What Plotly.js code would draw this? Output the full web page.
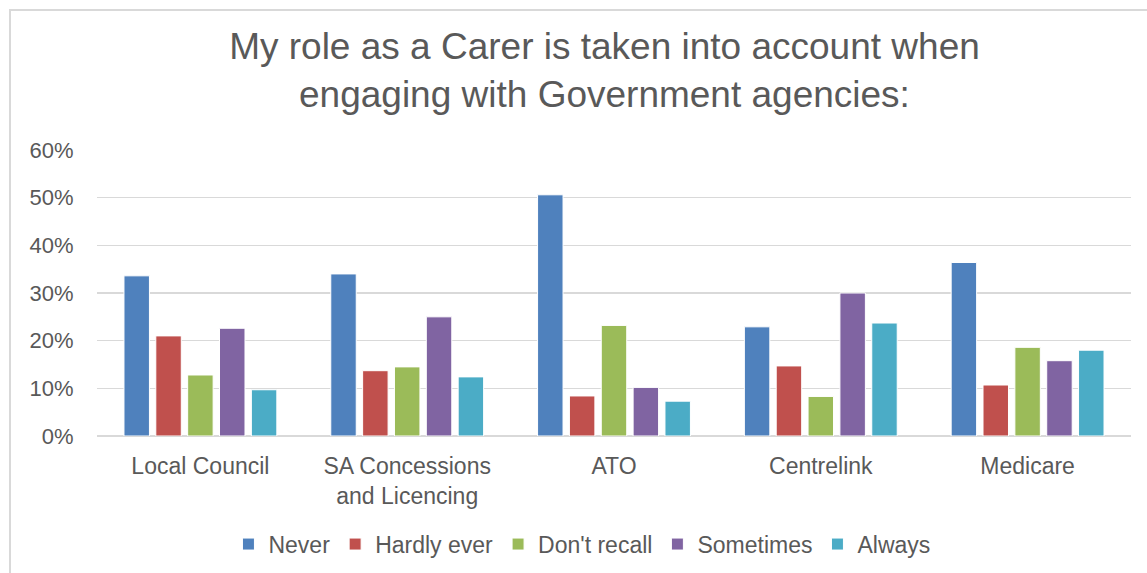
<!DOCTYPE html>
<html>
<head>
<meta charset="utf-8">
<script src="https://cdn.plot.ly/plotly-3.0.1.min.js"></script>
<style>
  html, body { margin: 0; padding: 0; background: #fff; overflow: hidden; }
  #wrap { position: relative; width: 1147px; height: 573px; }
  #chart { position: absolute; left: 0; top: 0; width: 1147px; height: 573px; }
  #frame { position: absolute; left: 9px; top: 9px; width: 1200px; height: 700px;
           border-left: 2px solid #d9d9d9; border-top: 2px solid #d9d9d9; pointer-events: none; }
</style>
</head>
<body>
<div id="wrap">
  <div id="chart"></div>
  <div id="frame"></div>
</div>
<script>
const categories = ["Local Council", "SA Concessions<br>and Licencing", "ATO", "Centrelink", "Medicare"];
const seriesNames = ["Never", "Hardly ever", "Don't recall", "Sometimes", "Always"];
const never      = [0.336, 0.340, 0.506, 0.229, 0.364];
const hardlyEver = [0.210, 0.137, 0.084, 0.147, 0.107];
const dontRecall = [0.128, 0.145, 0.232, 0.083, 0.186];
const sometimes  = [0.226, 0.250, 0.102, 0.300, 0.158];
const always     = [0.097, 0.124, 0.073, 0.237, 0.180];
const colors = ["#4F81BD", "#C0504D", "#9BBB59", "#8064A2", "#4BACC6"];
const yTickVals = [0, 0.1, 0.2, 0.3, 0.4, 0.5, 0.6];
const yTickText = ["0%", "10%", "20%", "30%", "40%", "50%", "60%"];

const values = [never, hardlyEver, dontRecall, sometimes, always];
const traces = values.map((v, i) => ({
  type: "bar",
  name: seriesNames[i],
  x: categories,
  y: v,
  marker: { color: colors[i], line: { color: "#ffffff", width: 1 } },
  hoverinfo: "skip"
}));

const font = "Liberation Sans, Arial, sans-serif";
const layout = {
  width: 1147,
  height: 573,
  paper_bgcolor: "#ffffff",
  plot_bgcolor: "#ffffff",
  margin: { l: 97, r: 16, t: 150, b: 137, autoexpand: false },
  font: { family: font, color: "#595959" },
  title: {
    text: "My role as a Carer is taken into account when<br>engaging with Government agencies:",
    font: { family: font, size: 37, color: "#595959" },
    x: 0.527, xref: "container", xanchor: "center",
    y: 1 - 59 / 573, yref: "container", yanchor: "top"
  },
  barmode: "group",
  bargap: 0.23,
  bargroupgap: 0.2,
  xaxis: {
    tickfont: { family: font, size: 23, color: "#595959" },
    ticks: "outside", ticklen: 9, tickcolor: "rgba(0,0,0,0)",
    showline: false, showgrid: false, zeroline: false
  },
  yaxis: {
    range: [0, 0.6],
    tickvals: yTickVals,
    ticktext: yTickText,
    tickfont: { family: font, size: 22, color: "#595959" },
    ticks: "outside", ticklen: 18, tickcolor: "rgba(0,0,0,0)",
    showgrid: true, gridcolor: "#d9d9d9", gridwidth: 1.5,
    zeroline: true, zerolinecolor: "#d9d9d9", zerolinewidth: 1.5,
    showline: false, fixedrange: true
  },
  showlegend: true,
  legend: {
    orientation: "h",
    x: 0.469, xanchor: "center",
    y: -0.378, yanchor: "middle",
    font: { family: font, size: 23, color: "#595959" },
    itemwidth: 30,
    traceorder: "normal"
  }
};

Plotly.newPlot("chart", traces, layout, { displayModeBar: false, staticPlot: true });
</script>
</body>
</html>
